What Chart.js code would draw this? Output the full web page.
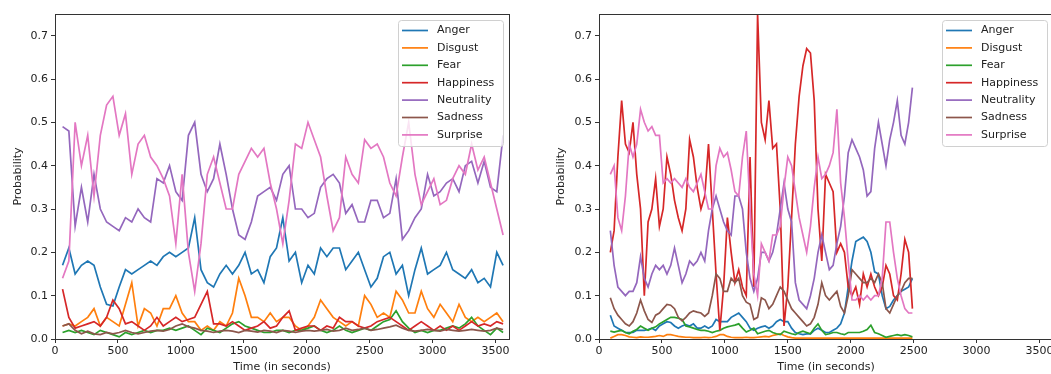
<!DOCTYPE html>
<html>
<head>
<meta charset="utf-8">
<script src="https://cdn.jsdelivr.net/npm/chart.js@4"></script>
<style>
  html, body { margin: 0; padding: 0; background: #fff; overflow: hidden; }
  body { width: 1051px; height: 374px; position: relative; }
  canvas { position: absolute; top: 0; }
  #chartLeft { left: 0; }
  #chartRight { left: 530px; }
</style>
</head>
<body>
<canvas id="chartLeft" width="530" height="374"></canvas>
<canvas id="chartRight" width="540" height="374"></canvas>
<script>
const emotions = ["Anger", "Disgust", "Fear", "Happiness", "Neutrality", "Sadness", "Surprise"];
const colors = ["#1f77b4", "#ff7f0e", "#2ca02c", "#d62728", "#9467bd", "#8c564b", "#e377c2"];
const xTicks = [0, 500, 1000, 1500, 2000, 2500, 3000, 3500];
const yTicks = [0, 0.1, 0.2, 0.3, 0.4, 0.5, 0.6, 0.7];

// left panel, one value every 50 s
const timesL = [60,110,160,210,260,310,360,410,460,510,560,610,660,710,760,810,860,910,960,1010,
  1060,1110,1160,1210,1260,1310,1360,1410,1460,1510,1560,1610,1660,1710,1760,1810,1860,1910,1960,2010,
  2060,2110,2160,2210,2260,2310,2360,2410,2460,2510,2560,2610,2660,2710,2760,2810,2860,2910,2960,3010,
  3060,3110,3160,3210,3260,3310,3360,3410,3460,3510,3560];
const angerL = [0.17,0.21,0.15,0.17,0.18,0.17,0.12,0.08,0.076,0.12,
  0.16,0.15,0.16,0.17,0.18,0.17,0.19,0.2,0.19,0.2,
  0.21,0.28,0.16,0.13,0.12,0.15,0.17,0.15,0.17,0.2,
  0.15,0.16,0.13,0.19,0.21,0.28,0.18,0.2,0.13,0.17,
  0.15,0.21,0.19,0.21,0.21,0.16,0.18,0.2,0.16,0.12,
  0.14,0.19,0.2,0.15,0.17,0.1,0.16,0.21,0.15,0.16,
  0.17,0.2,0.16,0.15,0.14,0.16,0.13,0.14,0.12,0.2,
  0.17];
const disgustL = [0.03,0.035,0.03,0.04,0.05,0.07,0.03,0.05,0.04,0.03,
  0.08,0.13,0.03,0.07,0.06,0.03,0.07,0.07,0.1,0.06,
  0.04,0.04,0.02,0.03,0.02,0.04,0.03,0.06,0.14,0.1,
  0.05,0.05,0.04,0.06,0.04,0.05,0.05,0.03,0.02,0.03,
  0.05,0.09,0.07,0.05,0.04,0.03,0.04,0.03,0.1,0.08,
  0.05,0.06,0.05,0.11,0.09,0.06,0.06,0.11,0.07,0.05,
  0.08,0.06,0.04,0.08,0.05,0.04,0.05,0.04,0.05,0.06,
  0.04];
const fearL = [0.015,0.02,0.015,0.02,0.015,0.01,0.02,0.015,0.01,0.005,
  0.015,0.01,0.015,0.02,0.015,0.02,0.02,0.025,0.02,0.025,
  0.03,0.02,0.01,0.025,0.02,0.015,0.025,0.035,0.04,0.03,
  0.025,0.02,0.015,0.015,0.02,0.02,0.015,0.02,0.02,0.025,
  0.03,0.02,0.015,0.02,0.03,0.02,0.015,0.02,0.025,0.02,
  0.03,0.04,0.045,0.065,0.04,0.025,0.015,0.02,0.015,0.02,
  0.02,0.025,0.03,0.025,0.035,0.05,0.03,0.02,0.01,0.025,
  0.015];
const happinessL = [0.115,0.05,0.025,0.03,0.035,0.04,0.03,0.05,0.09,0.07,
  0.035,0.04,0.03,0.02,0.03,0.05,0.03,0.04,0.05,0.04,
  0.045,0.05,0.08,0.11,0.035,0.035,0.03,0.04,0.03,0.02,
  0.025,0.03,0.04,0.025,0.03,0.05,0.065,0.02,0.025,0.03,
  0.03,0.02,0.03,0.025,0.05,0.04,0.04,0.03,0.025,0.03,
  0.04,0.045,0.05,0.04,0.03,0.02,0.03,0.04,0.03,0.02,
  0.03,0.02,0.03,0.02,0.03,0.04,0.03,0.035,0.03,0.04,
  0.035];
const neutralityL = [0.49,0.48,0.26,0.35,0.27,0.38,0.3,0.27,0.26,0.25,
  0.28,0.27,0.3,0.28,0.27,0.37,0.36,0.4,0.34,0.32,
  0.47,0.5,0.38,0.34,0.37,0.45,0.38,0.3,0.24,0.23,
  0.27,0.33,0.34,0.35,0.32,0.38,0.4,0.3,0.3,0.28,
  0.29,0.35,0.37,0.38,0.36,0.29,0.31,0.27,0.27,0.32,
  0.32,0.28,0.29,0.37,0.23,0.25,0.28,0.3,0.38,0.33,
  0.34,0.36,0.37,0.34,0.4,0.41,0.36,0.41,0.35,0.34,
  0.47];
const sadnessL = [0.03,0.035,0.02,0.012,0.018,0.012,0.01,0.015,0.012,0.015,
  0.02,0.015,0.012,0.015,0.018,0.02,0.018,0.022,0.03,0.035,
  0.028,0.025,0.02,0.018,0.015,0.018,0.02,0.018,0.015,0.02,
  0.018,0.016,0.02,0.018,0.015,0.02,0.018,0.015,0.018,0.02,
  0.018,0.02,0.022,0.018,0.02,0.025,0.02,0.022,0.025,0.02,
  0.022,0.025,0.028,0.032,0.025,0.02,0.018,0.02,0.022,0.02,
  0.018,0.022,0.02,0.018,0.02,0.022,0.02,0.018,0.02,0.025,
  0.022];
const surpriseL = [0.14,0.18,0.5,0.4,0.47,0.33,0.47,0.54,0.56,0.47,
  0.52,0.38,0.45,0.47,0.42,0.4,0.37,0.33,0.22,0.38,
  0.2,0.11,0.22,0.38,0.42,0.36,0.3,0.3,0.38,0.41,
  0.44,0.42,0.44,0.36,0.3,0.22,0.32,0.45,0.44,0.5,
  0.46,0.42,0.33,0.25,0.28,0.42,0.38,0.36,0.46,0.44,
  0.45,0.42,0.36,0.33,0.42,0.5,0.38,0.31,0.34,0.37,
  0.31,0.32,0.37,0.4,0.38,0.45,0.39,0.42,0.36,0.3,
  0.24];

// right panel, one value every 30 s
const timesR = [90,120,150,180,210,240,270,300,330,360,
  390,420,450,480,510,540,570,600,630,660,
  690,720,750,780,810,840,870,900,930,960,
  990,1020,1050,1080,1110,1140,1170,1200,1230,1260,
  1290,1320,1350,1380,1410,1440,1470,1500,1530,1560,
  1590,1620,1650,1680,1710,1740,1770,1800,1830,1860,
  1890,1920,1950,1980,2010,2040,2070,2100,2130,2160,
  2190,2220,2250,2280,2310,2340,2370,2400,2430,2460,
  2490];
const angerR = [0.055,0.03,0.025,0.02,0.015,0.015,0.015,0.02,0.02,0.02,
  0.022,0.025,0.02,0.03,0.035,0.04,0.038,0.03,0.025,0.03,
  0.033,0.03,0.035,0.025,0.025,0.03,0.025,0.03,0.045,0.04,
  0.04,0.04,0.05,0.055,0.06,0.05,0.04,0.025,0.02,0.025,
  0.028,0.03,0.025,0.03,0.04,0.045,0.04,0.04,0.025,0.015,
  0.012,0.01,0.012,0.012,0.02,0.025,0.02,0.015,0.015,0.02,
  0.025,0.035,0.06,0.12,0.18,0.225,0.23,0.235,0.225,0.2,
  0.155,0.15,0.1,0.07,0.075,0.09,0.1,0.11,0.115,0.12,
  0.14];
const disgustR = [0.002,0.006,0.01,0.01,0.008,0.005,0.004,0.003,0.005,0.004,
  0.004,0.005,0.006,0.008,0.006,0.01,0.01,0.008,0.006,0.005,
  0.004,0.004,0.003,0.003,0.003,0.004,0.003,0.004,0.006,0.01,
  0.01,0.006,0.004,0.003,0.003,0.003,0.004,0.003,0.003,0.004,
  0.005,0.006,0.005,0.008,0.01,0.012,0.008,0.005,0.003,0.002,
  0.002,0.002,0.002,0.002,0.002,0.002,0.002,0.002,0.002,0.002,
  0.002,0.002,0.002,0.002,0.002,0.002,0.002,0.002,0.002,0.002,
  0.002,0.002,0.002,0.002,0.002,0.002,0.002,0.002,0.002,0.002,
  0.002];
const fearR = [0.018,0.016,0.018,0.02,0.015,0.012,0.018,0.022,0.03,0.025,
  0.02,0.025,0.028,0.035,0.04,0.045,0.05,0.05,0.048,0.045,
  0.03,0.028,0.025,0.022,0.02,0.02,0.018,0.015,0.018,0.02,
  0.025,0.028,0.03,0.032,0.035,0.025,0.016,0.02,0.025,0.012,
  0.015,0.018,0.02,0.015,0.012,0.01,0.018,0.015,0.012,0.01,
  0.015,0.018,0.015,0.012,0.025,0.035,0.02,0.01,0.012,0.015,
  0.015,0.012,0.01,0.015,0.015,0.015,0.015,0.018,0.022,0.032,
  0.015,0.012,0.008,0.004,0.006,0.008,0.01,0.008,0.01,0.008,
  0.005];
const happinessR = [0.2,0.25,0.42,0.55,0.45,0.43,0.5,0.38,0.3,0.1,
  0.27,0.3,0.37,0.26,0.3,0.42,0.38,0.32,0.28,0.25,
  0.3,0.46,0.42,0.35,0.3,0.33,0.45,0.3,0.15,0.02,
  0.12,0.28,0.2,0.13,0.16,0.12,0.1,0.42,0.12,0.75,
  0.5,0.46,0.55,0.44,0.45,0.3,0.03,0.12,0.28,0.45,
  0.56,0.63,0.67,0.66,0.55,0.3,0.18,0.38,0.36,0.34,
  0.2,0.22,0.2,0.12,0.1,0.12,0.08,0.15,0.12,0.15,
  0.12,0.1,0.12,0.17,0.15,0.1,0.09,0.15,0.23,0.2,
  0.07];
const neutralityR = [0.25,0.17,0.12,0.11,0.1,0.11,0.11,0.13,0.19,0.14,
  0.12,0.15,0.17,0.16,0.17,0.15,0.17,0.21,0.17,0.13,
  0.15,0.18,0.17,0.18,0.2,0.18,0.25,0.3,0.33,0.3,
  0.27,0.25,0.24,0.33,0.33,0.3,0.2,0.14,0.11,0.14,
  0.2,0.2,0.18,0.2,0.24,0.3,0.36,0.3,0.27,0.13,
  0.09,0.08,0.07,0.1,0.14,0.2,0.24,0.2,0.16,0.17,
  0.22,0.26,0.33,0.43,0.46,0.44,0.42,0.39,0.33,0.34,
  0.44,0.5,0.45,0.4,0.46,0.5,0.55,0.47,0.45,0.5,
  0.58];
const sadnessR = [0.095,0.07,0.055,0.045,0.035,0.03,0.04,0.06,0.09,0.065,
  0.045,0.038,0.055,0.06,0.07,0.08,0.078,0.07,0.05,0.042,
  0.05,0.06,0.065,0.062,0.06,0.052,0.06,0.1,0.15,0.14,
  0.11,0.11,0.14,0.13,0.14,0.1,0.085,0.08,0.045,0.05,
  0.095,0.09,0.07,0.08,0.1,0.12,0.11,0.09,0.07,0.06,
  0.05,0.04,0.03,0.035,0.05,0.08,0.13,0.1,0.09,0.1,
  0.11,0.075,0.06,0.1,0.16,0.15,0.14,0.13,0.13,0.14,
  0.13,0.15,0.13,0.07,0.06,0.08,0.1,0.11,0.13,0.14,
  0.14];
const surpriseR = [0.38,0.4,0.28,0.25,0.33,0.45,0.42,0.45,0.53,0.5,
  0.48,0.49,0.47,0.47,0.36,0.37,0.36,0.37,0.36,0.35,
  0.37,0.35,0.34,0.36,0.38,0.34,0.3,0.3,0.4,0.44,
  0.42,0.43,0.39,0.34,0.33,0.42,0.48,0.3,0.15,0.1,
  0.22,0.2,0.18,0.24,0.24,0.26,0.35,0.42,0.4,0.34,
  0.28,0.24,0.2,0.26,0.35,0.42,0.37,0.38,0.4,0.43,
  0.53,0.36,0.28,0.18,0.09,0.09,0.1,0.09,0.1,0.09,
  0.1,0.1,0.14,0.27,0.27,0.2,0.14,0.1,0.07,0.06,
  0.06];

const FONT = "DejaVu Sans";
const TEXT = "#222";

// frame on all four sides plus the boxed legend in the upper right
const frameAndLegend = {
  id: "frameAndLegend",
  afterDraw(chart) {
    const ctx = chart.ctx;
    const a = chart.chartArea;
    ctx.save();
    ctx.strokeStyle = "#333";
    ctx.lineWidth = 1;
    ctx.strokeRect(Math.round(a.left) + 0.5, Math.round(a.top) + 0.5,
      Math.round(a.right - a.left), Math.round(a.bottom - a.top));

    const w = 105, h = 126;
    const x0 = a.right - 6 - w, y0 = a.top + 6;
    ctx.beginPath();
    ctx.roundRect(x0 + 0.5, y0 + 0.5, w, h, 3);
    ctx.fillStyle = "rgba(255,255,255,0.8)";
    ctx.fill();
    ctx.strokeStyle = "#d0d0d0";
    ctx.stroke();

    ctx.font = "11px '" + FONT + "'";
    ctx.textBaseline = "middle";
    chart.data.datasets.forEach((ds, i) => {
      const y = y0 + 10.5 + i * 17.4;
      ctx.beginPath();
      ctx.moveTo(x0 + 4, y);
      ctx.lineTo(x0 + 30, y);
      ctx.strokeStyle = ds.borderColor;
      ctx.lineWidth = 1.7;
      ctx.stroke();
      ctx.fillStyle = TEXT;
      ctx.fillText(ds.label, x0 + 39, y);
    });
    ctx.restore();
  }
};

function makeChart(id, times, series, axisWidth, rightPad, yTitlePad) {
  const ctx = document.getElementById(id).getContext("2d");
  return new Chart(ctx, {
    type: "line",
    data: {
      datasets: series.map((vals, i) => ({
        label: emotions[i],
        data: times.map((t, k) => ({ x: t, y: vals[k] })),
        borderColor: colors[i],
        borderWidth: 1.7,
        pointRadius: 0,
        tension: 0,
        fill: false,
        order: series.length - i // later series drawn on top
      }))
    },
    options: {
      responsive: false,
      animation: false,
      devicePixelRatio: 1,
      layout: { padding: { left: 0, right: rightPad, top: 14, bottom: 0 } },
      plugins: { legend: { display: false }, tooltip: { enabled: false } },
      scales: {
        x: {
          type: "linear",
          min: 0,
          max: 3607,
          afterBuildTicks: (s) => { s.ticks = xTicks.map((v) => ({ value: v })); },
          afterFit: (s) => { s.height = 35; },
          grid: { drawOnChartArea: false, tickLength: 4, color: "#333" },
          border: { display: false },
          ticks: { color: TEXT, font: { family: FONT, size: 11 }, padding: 2, maxRotation: 0, callback: (v) => String(v) },
          title: { display: true, text: "Time (in seconds)", color: TEXT, font: { family: FONT, size: 11 }, padding: { top: 0, bottom: 0 } }
        },
        y: {
          min: 0,
          max: 0.75,
          afterBuildTicks: (s) => { s.ticks = yTicks.map((v) => ({ value: v })); },
          afterFit: (s) => { s.width = axisWidth; },
          grid: { drawOnChartArea: false, tickLength: 4, color: "#333" },
          border: { display: false },
          ticks: { color: TEXT, font: { family: FONT, size: 11 }, padding: 3, callback: (v) => v.toFixed(1) },
          title: { display: true, text: "Probability", color: TEXT, font: { family: FONT, size: 11 }, padding: { top: yTitlePad, bottom: 0 } }
        }
      }
    },
    plugins: [frameAndLegend]
  });
}

makeChart("chartLeft", timesL,
  [angerL, disgustL, fearL, happinessL, neutralityL, sadnessL, surpriseL], 55, 21, 12);
makeChart("chartRight", timesR,
  [angerR, disgustR, fearR, happinessR, neutralityR, sadnessR, surpriseR], 69, 17, 25);
</script>
</body>
</html>
